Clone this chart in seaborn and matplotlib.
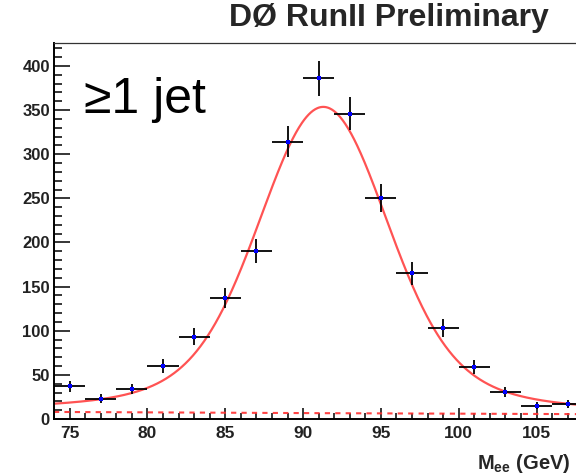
import numpy as np
import pandas as pd
import matplotlib
matplotlib.use("Agg")
import matplotlib.pyplot as plt
import seaborn as sns
from matplotlib.ticker import MultipleLocator

# Dielectron invariant mass, events with at least one jet (2 GeV bins)
bin_centers = [75, 77, 79, 81, 83, 85, 87, 89, 91, 93, 95, 97, 99, 101, 103, 105, 107]
counts = [37, 23, 34, 60, 93, 137, 190, 314, 386, 346, 250, 165, 103, 59, 31, 15, 17]
bin_half_width = 1.0

# Fit: Breit-Wigner smeared by a Gaussian resolution, plus exponential background
z_mass = 91.3
z_width = 3.6
mass_resolution = 3.4
signal_peak = 347.0
bkg_at_start = 8.0
bkg_slope = 0.011

x_lo, x_hi = 74.0, 107.53
y_lo, y_hi = 0.0, 426.0

sns.set_style("white")
plt.rcParams["font.family"] = ["Liberation Sans", "DejaVu Sans"]
plt.rcParams["mathtext.fontset"] = "custom"
plt.rcParams["mathtext.rm"] = "Liberation Sans"
plt.rcParams["mathtext.bf"] = "Liberation Sans:bold"

data = pd.DataFrame({"mass": bin_centers, "events": counts})
data["err"] = np.sqrt(data["events"])

# fit curve evaluated on a fine grid
m = np.linspace(x_lo, x_hi, 700)
t = np.linspace(-6 * mass_resolution, 6 * mass_resolution, 801)
gauss = np.exp(-0.5 * (t / mass_resolution) ** 2)
hw = z_width / 2.0
bw = hw ** 2 / ((m[:, None] - z_mass - t[None, :]) ** 2 + hw ** 2)
signal = (bw * gauss).sum(axis=1)
signal = signal / signal.max() * signal_peak
background = bkg_at_start * np.exp(-bkg_slope * (m - x_lo))
fit = pd.DataFrame({"mass": m, "total": signal + background, "bkg": background})

fig = plt.figure(figsize=(5.76, 4.75), dpi=100)
ax = fig.add_axes([54 / 576, 56 / 475, 522 / 576, 376 / 475])

sns.lineplot(data=fit, x="mass", y="bkg", ax=ax, color="#ff3030", lw=1.5,
             alpha=0.9, linestyle=(0, (2.5, 2.5)))
sns.lineplot(data=fit, x="mass", y="total", ax=ax, color="#ff1a1a", lw=1.6,
             alpha=0.75)

ax.errorbar(data["mass"], data["events"], xerr=bin_half_width, yerr=data["err"],
            fmt="none", ecolor="black", elinewidth=1.3, capsize=0, zorder=3)
sns.scatterplot(data=data, x="mass", y="events", ax=ax, color="#0000ff",
                marker="s", s=7, linewidth=0, zorder=4)

ax.set_xlim(x_lo, x_hi)
ax.set_ylim(y_lo, y_hi)
ax.xaxis.set_major_locator(MultipleLocator(5))
ax.xaxis.set_minor_locator(MultipleLocator(1))
ax.yaxis.set_major_locator(MultipleLocator(50))
ax.yaxis.set_minor_locator(MultipleLocator(10))

ax.tick_params(which="both", left=True, bottom=True, right=False, top=False,
               color="black")
ax.tick_params(axis="y", which="major", direction="in", length=11.5, width=1.1,
               pad=3, labelsize=12)
ax.tick_params(axis="y", which="minor", direction="in", length=5.8, width=1.1)
ax.tick_params(axis="x", which="major", direction="in", length=8, width=1.1,
               pad=5, labelsize=12.5)
ax.tick_params(axis="x", which="minor", direction="in", length=4.3, width=1.1)
for lab in ax.get_xticklabels() + ax.get_yticklabels():
    lab.set_fontweight("bold")
    lab.set_color("#222222")

for side in ("left", "bottom"):
    ax.spines[side].set_linewidth(1.4)
    ax.spines[side].set_color("black")
ax.spines["top"].set_linewidth(0.9)
ax.spines["top"].set_color("#333333")
ax.spines["right"].set_visible(False)

ax.set_xlabel("")
ax.set_ylabel("")

ax.text(0.058, 0.815, "\u22651 jet", transform=ax.transAxes, fontsize=36,
        ha="left", va="baseline", color="black")
fig.text(0.952, 0.945, "D\u00d8 RunII Preliminary", fontsize=23,
         fontweight="bold", ha="right", va="baseline")
fig.text(0.99, 0.012, r"$\mathbf{M_{ee}}$ (GeV)", fontsize=14.5,
         fontweight="bold", ha="right", va="baseline")

fig.savefig("out.png", dpi=100, facecolor="white")
